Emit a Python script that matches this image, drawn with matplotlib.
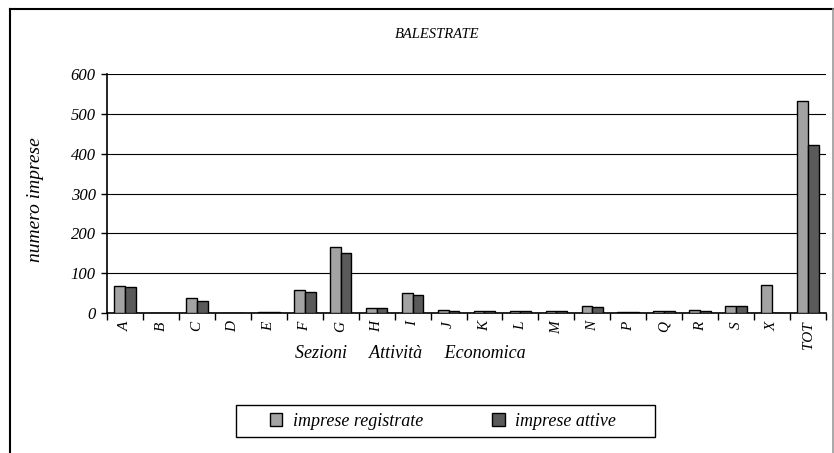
import matplotlib
matplotlib.use("Agg")
import matplotlib.pyplot as plt
import numpy as np
from matplotlib.lines import Line2D
from matplotlib.patches import Rectangle

categories = ["A", "B", "C", "D", "E", "F", "G", "H", "I", "J", "K", "L", "M", "N", "P", "Q", "R", "S", "X", "TOT"]
registrate = [67, 0, 38, 0, 2, 58, 165, 13, 50, 7, 5, 5, 4, 17, 2, 4, 8, 17, 70, 532]
attive = [65, 0, 30, 0, 2, 53, 151, 13, 45, 5, 5, 5, 4, 16, 2, 4, 6, 17, 0, 422]
yticks = [0, 100, 200, 300, 400, 500, 600]

plt.rcParams['font.family'] = ['Liberation Serif', 'DejaVu Serif']
plt.rcParams['font.style'] = 'italic'

W, H = 834, 453
fig = plt.figure(figsize=(W / 100, H / 100), dpi=100)
ax = fig.add_axes([107 / W, 1 - 313 / H, (826 - 107) / W, (313 - 74) / H])

x = np.arange(len(categories))
bw = 0.3
ax.bar(x - bw / 2, registrate, bw, color="#a3a3a3", edgecolor="black", linewidth=1.0,
       label="imprese registrate", zorder=3)
ax.bar(x + bw / 2, attive, bw, color="#5a5a5a", edgecolor="black", linewidth=1.0,
       label="imprese attive", zorder=3)

ax.set_xlim(-0.5, len(categories) - 0.5)
ax.set_ylim(0, 600)
ax.set_yticks(yticks)
ax.set_yticklabels([str(v) for v in yticks], fontsize=12, style='italic')
ax.yaxis.grid(True, color="black", linewidth=0.8, zorder=0)
ax.set_axisbelow(True)

ax.set_xticks(x)
ax.set_xticklabels(categories, rotation=90, fontsize=11, style='italic')
ax.set_xticks(np.arange(len(categories) + 1) - 0.5, minor=True)
ax.tick_params(axis='x', which='major', length=0, pad=6)
ax.tick_params(axis='x', which='minor', length=5, width=1, direction='out')
ax.tick_params(axis='y', length=4, width=1, direction='out', pad=4)

for s in ["top", "right"]:
    ax.spines[s].set_visible(False)
ax.spines["left"].set_linewidth(1.2)
ax.spines["bottom"].set_linewidth(1.2)

fig.text(36 / W, 1 - 200 / H, "numero imprese", rotation=90, ha="center", va="center",
         fontsize=14, style='italic')
fig.text(410 / W, 1 - 353 / H, "Sezioni     Attività     Economica", ha="center", va="center",
         fontsize=13, style='italic')
fig.text(437 / W, 1 - 34 / H, "BALESTRATE", ha="center", va="center", fontsize=10.5, style='italic')

leg = fig.legend(loc="center", bbox_to_anchor=(443 / W, 1 - 421 / H), ncol=2, frameon=False,
                 fontsize=13, handlelength=0.7, handleheight=0.7,
                 columnspacing=3.8, borderpad=0.45, handletextpad=0.6, borderaxespad=0)
for t in leg.get_texts():
    t.set_style('italic')
fig.add_artist(Rectangle((236 / W, 1 - 437 / H), (655 - 236) / W, 32 / H, transform=fig.transFigure,
                         fill=False, edgecolor="black", lw=1.0))

# outer chart border
fig.add_artist(Line2D([10 / W, 10 / W], [0, 1 - 9 / H], transform=fig.transFigure, color="black", lw=1.5))
fig.add_artist(Line2D([10 / W, 833 / W], [1 - 9 / H, 1 - 9 / H], transform=fig.transFigure, color="black", lw=1.5))
fig.add_artist(Line2D([833 / W, 833 / W], [0, 1 - 9 / H], transform=fig.transFigure, color="#999999", lw=1.2))

fig.savefig("out.png", dpi=100)
